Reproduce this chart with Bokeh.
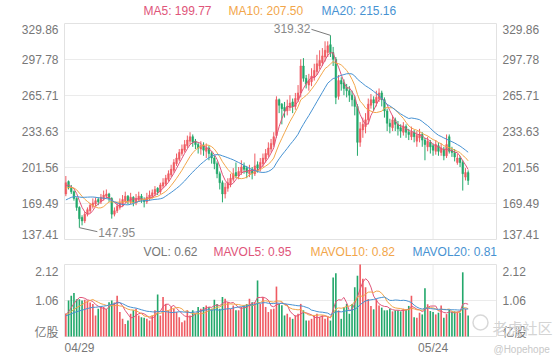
from bokeh.plotting import figure
from bokeh.models import ColumnDataSource, Range1d
from bokeh.core.properties import value
from bokeh.embed import file_html
from bokeh.resources import INLINE

# ---------------- data (30-min bars) ----------------
prior_closes = [160, 158, 162, 165, 163, 160, 158, 162, 166, 170,
                176, 180, 178, 182, 185, 183, 186, 184, 187]
opens = [178, 189, 184, 180, 174, 166, 157, 154, 160, 163,
         167, 169, 173, 171, 174, 176, 178, 174, 160, 163,
         166, 169, 172, 176, 171, 175, 170, 173, 176, 173,
         171, 174, 176, 178, 183, 180, 185, 187, 191, 195,
         199, 205, 209, 214, 217, 221, 225, 229, 225, 222,
         218, 221, 216, 219, 214, 210, 205, 196, 188, 178,
         183, 187, 191, 197, 194, 197, 203, 201, 196, 200,
         196, 204, 201, 205, 209, 213, 218, 222, 230, 262,
         258, 255, 252, 255, 260, 256, 262, 268, 292, 281,
         275, 278, 282, 287, 292, 295, 300, 304, 311, 304,
         298, 265, 279, 277, 273, 270, 266, 262, 256, 224,
         235, 238, 244, 257, 262, 259, 263, 268, 262, 252,
         241, 237, 244, 240, 237, 233, 238, 233, 229, 233,
         225, 228, 231, 226, 220, 224, 221, 216, 221, 215,
         218, 212, 229, 217, 215, 206, 210, 206, 193, 197]
highs = [194, 190, 186, 181, 175, 167, 159, 162, 166, 170,
         174, 175, 175, 178, 181, 182, 179, 175, 166, 170,
         174, 177, 180, 177, 179, 176, 178, 180, 178, 175,
         179, 181, 182, 185, 184, 188, 192, 195, 199, 204,
         209, 214, 218, 222, 226, 230, 233, 231, 227, 224,
         225, 224, 223, 221, 216, 212, 207, 198, 190, 188,
         192, 196, 201, 206, 202, 208, 206, 203, 204, 202,
         214, 207, 210, 214, 218, 224, 227, 233, 265, 263,
         259, 260, 262, 266, 263, 268, 275, 298, 299, 284,
         285, 290, 294, 302, 306, 308, 314, 314, 319.32, 309,
         300, 284, 282, 280, 276, 274, 270, 265, 258, 242,
         246, 250, 263, 267, 265, 270, 272, 270, 264, 254,
         245, 248, 246, 243, 240, 242, 240, 236, 238, 235,
         234, 236, 233, 228, 229, 226, 223, 226, 224, 223,
         220, 231, 231, 220, 218, 214, 212, 208, 201, 199]
lows = [176, 182, 178, 172, 163, 147.95, 150, 152, 158, 161,
        165, 167, 168, 169, 172, 174, 171, 156, 158, 161,
        164, 167, 170, 169, 169, 167, 168, 171, 170, 166,
        169, 172, 174, 176, 177, 178, 183, 185, 189, 193,
        197, 203, 207, 212, 215, 219, 222, 220, 218, 214,
        213, 212, 210, 208, 205, 200, 192, 182, 170.5, 174,
        180, 184, 189, 192, 191, 195, 196, 192, 193, 191,
        194, 197, 198, 202, 206, 211, 215, 220, 228, 250,
        240, 246, 248, 252, 250, 253, 260, 264, 278, 272,
        270, 274, 279, 284, 289, 292, 296, 300, 300, 292,
        258, 262, 270, 266, 264, 260, 256, 248, 212, 220,
        228, 232, 240, 254, 252, 256, 260, 256, 246, 234,
        232, 234, 234, 230, 228, 230, 228, 226, 226, 224,
        220, 224, 220, 208, 216, 214, 212, 213, 212, 212,
        208, 210, 214, 211, 207, 204, 202, 181, 190, 186]
closes = [188, 184, 180, 174, 166, 156, 154, 160, 164, 168,
          170, 172, 171, 175, 177, 178, 174, 160, 163, 167,
          170, 173, 176, 172, 175, 171, 174, 176, 173, 171,
          175, 177, 179, 182, 180, 186, 188, 192, 196, 200,
          206, 210, 215, 218, 222, 226, 229, 224, 222, 219,
          221, 217, 219, 214, 210, 205, 196, 188, 178, 184,
          188, 192, 196, 194, 198, 202, 200, 197, 199, 196,
          203, 201, 206, 210, 214, 219, 223, 229, 262, 257,
          254, 252, 256, 259, 256, 263, 268, 292, 281, 276,
          279, 283, 288, 294, 297, 301, 306, 310, 304, 298,
          264, 279, 276, 272, 270, 266, 262, 256, 224, 236,
          240, 244, 258, 262, 259, 264, 268, 262, 252, 241,
          238, 244, 240, 236, 234, 238, 233, 231, 233, 229,
          230, 231, 226, 222, 225, 220, 217, 222, 216, 219,
          212, 222, 216, 215, 211, 210, 206, 196, 197, 190]
prior_volumes = [0.55, 0.6, 0.5, 0.62, 0.58, 0.66, 0.6, 0.55, 0.64, 0.6,
                 0.62, 0.58, 0.66, 0.6, 0.64, 0.62, 0.6, 0.66, 0.64]
volumes = [0.68, 1.06, 1.2, 1.28, 1.1, 1.1, 1.06, 1.08, 1.06, 1.0,
           0.96, 0.62, 0.82, 0.87, 0.87, 0.82, 1.01, 1.06, 1.0, 1.2,
           0.72, 0.52, 0.37, 0.47, 0.67, 0.77, 0.82, 0.62, 0.57, 0.55,
           0.52, 0.47, 0.62, 0.77, 1.24, 0.62, 1.16, 0.96, 0.77, 0.87,
           0.82, 0.72, 0.57, 0.42, 0.47, 0.77, 0.62, 0.77, 0.67, 0.87,
           0.82, 0.87, 0.91, 0.87, 0.82, 1.08, 0.96, 0.82, 1.16, 1.11,
           1.01, 0.82, 0.91, 0.77, 0.77, 0.87, 0.91, 0.96, 1.11, 1.01,
           1.01, 1.65, 0.96, 1.16, 0.87, 0.72, 0.8, 0.82, 1.47, 0.96,
           0.92, 0.62, 0.67, 0.57, 0.52, 0.62, 0.67, 0.96, 0.77, 0.47,
           0.47, 0.52, 0.62, 0.67, 0.57, 0.62, 0.52, 0.57, 0.47, 1.74,
           1.86, 0.77, 0.52, 0.86, 0.96, 0.67, 0.96, 1.45, 1.79, 2.12,
           1.7, 1.45, 1.1, 0.9, 0.8, 1.1, 0.91, 0.85, 0.77, 0.77,
           0.82, 0.74, 0.77, 0.77, 0.74, 0.82, 0.8, 0.9, 1.2, 0.57,
           0.55, 0.7, 0.65, 1.42, 0.95, 0.75, 0.72, 0.65, 0.7, 0.91,
           0.55, 0.66, 0.78, 0.72, 0.74, 0.72, 0.70, 1.89, 0.82, 0.62]

date_labels = ["04/29", "05/24"]
date_index = [0, 136]
price_ticks = [137.41, 169.49, 201.56, 233.63, 265.71, 297.78, 329.86]
vol_ticks = [0, 1.06, 2.12]
vol_tick_labels = ["亿股", "1.06", "2.12"]
ma_periods = [5, 10, 20]
ma_legend_values = ["199.77", "207.50", "215.16"]
vol_legend_names = ["VOL", "MAVOL5", "MAVOL10", "MAVOL20"]
vol_legend_values = ["0.62", "0.95", "0.82", "0.81"]
watermark = "老虎社区"
watermark_user = "@Hopehope"

# ---------------- helpers ----------------
N = len(closes)
idx = list(range(N))


def moving_avg(prior, vals, n):
    full = list(prior) + list(vals)
    k = len(prior)
    return [sum(full[k + i - n + 1:k + i + 1]) / n for i in range(len(vals))]


UP, DOWN = "#ef5b62", "#23a86b"
MA_COLORS = ["#e0557a", "#f2a64a", "#4792d2"]
TXT = "#777777"
GRID = "#ebebeb"
BORDER = "#e2e2e2"
FONT = "Liberation Sans"
CJK = "Noto Sans CJK SC"

# page geometry (pixels of the 560x360 page; Bokeh's page has no body margin)
PAGE_M = 0
FIG_W, FIG_H = 560, 360
PANE_L, PANE_R = 64, 496
MAIN_T, MAIN_B = 23, 239
VOL_T, VOL_B = 264, 336
N_SLOTS = 160
slot = (PANE_R - PANE_L) / N_SLOTS
y_lo, y_hi = price_ticks[0], price_ticks[-1]
pp = (y_hi - y_lo) / (MAIN_B - MAIN_T)
v_hi = vol_ticks[-1]
vp = v_hi / (VOL_B - VOL_T)


def fx(X):
    return (X - PANE_L) / slot - 0.5


def fy(Y):
    return y_hi - (Y - MAIN_T) * pp


def fv(Y):
    return v_hi - (Y - VOL_T) * vp


x_left, x_right = fx(PANE_L), fx(PANE_R)

p = figure(width=FIG_W, height=FIG_H,
           x_range=Range1d(fx(PAGE_M), fx(PAGE_M + FIG_W)),
           y_range=Range1d(fy(PAGE_M + FIG_H), fy(PAGE_M)),
           output_backend="svg", toolbar_location=None,
           x_axis_location=None, y_axis_location=None,
           min_border=0, outline_line_color=None,
           background_fill_color="white", border_fill_color="white")
p.extra_y_ranges = {"vol": Range1d(fv(PAGE_M + FIG_H), fv(PAGE_M))}
p.xgrid.visible = False
p.ygrid.visible = False

# ---- frames and grid lines ----
p.segment(x0=x_left, x1=x_right, y0=price_ticks[1:-1], y1=price_ticks[1:-1],
          line_color=GRID, line_width=1)
p.segment(x0=x_left, x1=x_right, y0=vol_ticks[1:-1], y1=vol_ticks[1:-1],
          line_color=GRID, line_width=1, y_range_name="vol")
p.segment(x0=date_index[1:], x1=date_index[1:], y0=y_lo, y1=y_hi,
          line_color=GRID, line_width=1)
p.segment(x0=date_index[1:], x1=date_index[1:], y0=0, y1=v_hi,
          line_color=GRID, line_width=1, y_range_name="vol")
p.quad(left=[x_left], right=[x_right], bottom=[y_lo], top=[y_hi],
       fill_color=None, line_color=BORDER, line_width=1)
p.quad(left=[x_left], right=[x_right], bottom=[0], top=[v_hi],
       fill_color=None, line_color=BORDER, line_width=1, y_range_name="vol")

# ---- candles ----
colors = [UP if c >= o else DOWN for o, c in zip(opens, closes)]
src = ColumnDataSource(dict(
    x=idx,
    h=[max(a, b, c) for a, b, c in zip(highs, opens, closes)],
    l=[min(a, b, c) for a, b, c in zip(lows, opens, closes)],
    top=[max(o, c) for o, c in zip(opens, closes)],
    bot=[min(o, c) for o, c in zip(opens, closes)],
    v=volumes, col=colors))

p.segment(x0="x", y0="l", x1="x", y1="h", color="col", line_width=1, source=src)
p.vbar(x="x", width=0.62, top="top", bottom="bot", fill_color="col",
       line_color="col", line_width=0.5, source=src)
for n, col in zip(ma_periods, MA_COLORS):
    p.line(idx, moving_avg(prior_closes, closes, n), line_color=col, line_width=1)

# ---- volume ----
p.vbar(x="x", width=0.6, top="v", bottom=0, fill_color="col", line_color=None,
       source=src, y_range_name="vol")
for n, col in zip(ma_periods, MA_COLORS):
    p.line(idx, moving_avg(prior_volumes, volumes, n), line_color=col,
           line_width=1, y_range_name="vol")


def txt(xs, ys, texts, color=TXT, align="left", size="12px", font=FONT,
        y_range_name="default"):
    p.text(x=xs, y=ys, text=texts, text_color=color, text_align=align,
           text_baseline="middle", text_font=value(font),
           text_font_size=value(size), y_range_name=y_range_name)


# ---- axis labels (left and right of both panes) ----
price_label_y = ([price_ticks[0] + 5.5 * pp] + price_ticks[1:-1]
                 + [price_ticks[-1] - 5.5 * pp])
price_labels = [f"{v:.2f}" for v in price_ticks]
txt([fx(58)] * len(price_labels), price_label_y, price_labels, align="right")
txt([fx(502)] * len(price_labels), price_label_y, price_labels, align="left")

vol_label_y = [vol_ticks[0] + 5 * vp, vol_ticks[1], vol_ticks[2] - 6.5 * vp]
for yv, lab in zip(vol_label_y, vol_tick_labels):
    font = FONT if lab.replace(".", "").isdigit() else CJK
    txt([fx(58)], [yv], [lab], align="right", font=font, y_range_name="vol")
    txt([fx(502)], [yv], [lab], align="left", font=font, y_range_name="vol")

# x labels: the first one starts at the pane's left edge, others centred
txt([x_left], [fy(347)], [date_labels[0]], align="left")
txt(date_index[1:], [fy(347)] * (len(date_labels) - 1), date_labels[1:], align="center")

# ---- legends ----
ma_x = [143, 228, 321]
for n, val, col, X in zip(ma_periods, ma_legend_values, MA_COLORS, ma_x):
    txt([fx(X)], [fy(10)], [f"MA{n}: {val}"], color=col)
vol_x = [143, 213, 310, 412]
for name, val, col, X in zip(vol_legend_names, vol_legend_values, [TXT] + MA_COLORS, vol_x):
    txt([fx(X)], [fy(251)], [f"{name}: {val}"], color=col)

# ---- max / min marks ----
i_max = max(idx, key=lambda i: highs[i])
i_min = min(idx, key=lambda i: lows[i])
hmax, lmin = highs[i_max], lows[i_min]
ax1, ay1 = i_max - 19 / slot, hmax + 6 * pp
p.segment(x0=[i_max], y0=[hmax], x1=[ax1], y1=[ay1], line_color="#7a7a7a", line_width=1)
txt([ax1 - 1 / slot], [ay1 + 1 * pp], [f"{hmax:.2f}"], color="#888888", align="right")
bx1, by1 = i_min + 18 / slot, lmin - 4 * pp
p.segment(x0=[i_min], y0=[lmin], x1=[bx1], y1=[by1], line_color="#7a7a7a", line_width=1)
txt([bx1 + 1 / slot], [by1 - 1 * pp], [f"{lmin:.2f}"], color="#888888", align="left")

# ---- watermark ----
p.scatter([fx(480)], [fy(322)], marker="circle", size=15, fill_color=None,
          line_color="#d8d8d8", line_width=1.5)
txt([fx(492)], [fy(327)], [watermark], color="#d4d4d4", size="15px", font=CJK)
txt([fx(493)], [fy(349)], [watermark_user], color="#c8c8c8", size="10px")

open("out.html", "w").write(file_html(p, INLINE))
